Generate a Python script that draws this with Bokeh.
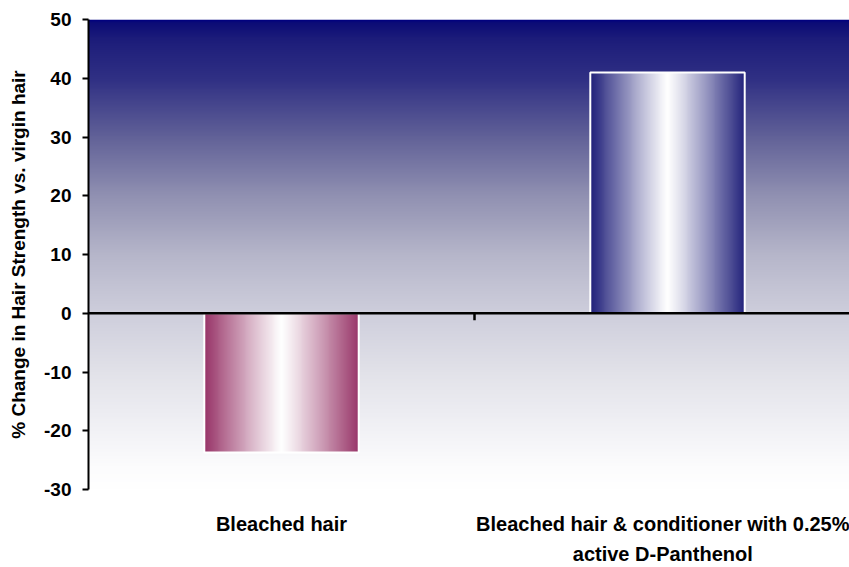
import numpy as np
from bokeh.plotting import figure
from bokeh.models import Range1d, FixedTicker, Span
from bokeh.embed import file_html
from bokeh.resources import INLINE

# ---- data ----
categories = ["Bleached hair", "Bleached hair & conditioner with 0.25%\nactive D-Panthenol"]
values = [-23.7, 41.0]
bar_edge_colors = [(152, 52, 104), (32, 32, 122)]
y_ticks = [-30, -20, -10, 0, 10, 20, 30, 40, 50]
y_label = "% Change in Hair Strength vs. virgin hair"

# background gradient stops (value -> rgb)
bg_stop_vals = [50, 49.5, 47, 40, 30, 20, 10, 0, -10, -20, -26, -30]
bg_stop_cols = [(0, 0, 128), (12, 12, 118), (28, 28, 122), (48, 48, 132), (98, 98, 152),
                (145, 145, 178), (182, 182, 202), (206, 206, 220), (226, 226, 233),
                (242, 242, 246), (252, 252, 253), (255, 255, 255)]

FONT = "Liberation Sans"
bar_width = 0.4
n_cat = len(categories)
x_end = 761 / 386.0

p = figure(frame_width=761, frame_height=470, output_backend="svg", toolbar_location=None,
           x_range=Range1d(0, x_end), y_range=Range1d(y_ticks[0], y_ticks[-1]),
           min_border_left=88, min_border_right=0, min_border_top=19, min_border_bottom=70)
p.outline_line_color = None
p.grid.visible = False
p.background_fill_color = "white"
p.border_fill_color = "white"


def rgba_image(rows, cols_rgb):
    h, w = rows, cols_rgb.shape[1]
    img = np.zeros((h, w), dtype=np.uint32)
    view = img.view(dtype=np.uint8).reshape((h, w, 4))
    view[:, :, :3] = cols_rgb.astype(np.uint8)
    view[:, :, 3] = 255
    return img


# background gradient image
ys = np.linspace(y_ticks[0], y_ticks[-1], 480)
sv = np.array(bg_stop_vals[::-1], dtype=float)
sc = np.array(bg_stop_cols[::-1], dtype=float)
bg = np.zeros((len(ys), 1, 3))
for k in range(3):
    bg[:, 0, k] = np.interp(ys, sv, sc[:, k])
p.image_rgba(image=[rgba_image(len(ys), bg)], x=0, y=y_ticks[0], dw=n_cat,
             dh=y_ticks[-1] - y_ticks[0])

# gradient bars (cylinder shading), placed by the data values
n_px = 160
frac = (np.arange(n_px) + 0.5) / n_px
t = np.abs(frac - 0.5) / 0.5
f = t ** 1.1
for i, (v, ec) in enumerate(zip(values, bar_edge_colors)):
    row = np.zeros((1, n_px, 3))
    for k in range(3):
        row[0, :, k] = 255 * (1 - f) + ec[k] * f
    img = rgba_image(2, np.repeat(row, 2, axis=0))
    p.image_rgba(image=[img], x=i + 0.5 - bar_width / 2, y=min(0, v),
                 dw=bar_width, dh=abs(v))

# white outlines
p.vbar(x=[i + 0.5 for i in range(n_cat)], width=bar_width, bottom=0, top=values,
       fill_color=None, line_color="white", line_width=2)

# zero line and category separator tick
p.add_layout(Span(location=0, dimension="width", line_color="black", line_width=2.5))
sep = [i for i in range(1, n_cat)]
p.segment(x0=sep, y0=[0] * len(sep), x1=sep, y1=[-1.2] * len(sep),
          line_color="black", line_width=2.5)

# y axis
ya = p.yaxis[0]
ya.ticker = FixedTicker(ticks=y_ticks)
ya.major_label_overrides = {tk: str(tk) for tk in y_ticks}
ya.axis_line_width = 2
ya.axis_line_color = "black"
ya.major_tick_line_width = 2
ya.major_tick_line_color = "black"
ya.major_tick_out = 6
ya.major_tick_in = 0
ya.minor_tick_line_color = None
ya.major_label_text_font = FONT
ya.major_label_text_font_style = "bold"
ya.major_label_text_font_size = "19px"
ya.major_label_text_color = "black"
ya.major_label_standoff = 11
ya.axis_label = y_label
ya.axis_label_text_font = FONT
ya.axis_label_text_font_style = "bold"
ya.axis_label_text_font_size = "19px"
ya.axis_label_text_color = "black"
ya.axis_label_standoff = 12

# x axis (labels only)
xa = p.xaxis[0]
xa.ticker = FixedTicker(ticks=[i + 0.5 for i in range(n_cat)])
xa.major_label_overrides = {i + 0.5: c for i, c in enumerate(categories)}
xa.axis_line_color = None
xa.major_tick_line_color = None
xa.minor_tick_line_color = None
xa.major_label_text_font = FONT
xa.major_label_text_font_style = "bold"
xa.major_label_text_font_size = "20px"
xa.major_label_text_color = "black"
xa.major_label_text_line_height = 1.4
xa.major_label_standoff = 17

open("out.html", "w").write(file_html(p, INLINE))
